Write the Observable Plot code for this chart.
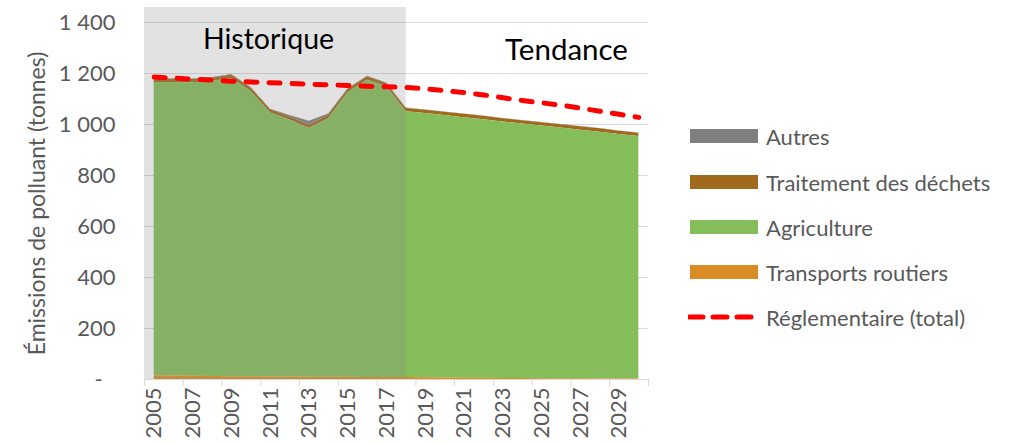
<!DOCTYPE html>
<html><head><meta charset="utf-8">
<script src="https://cdn.jsdelivr.net/npm/d3@7"></script>
<script src="https://cdn.jsdelivr.net/npm/@observablehq/plot@0.6"></script>
<style>
body{margin:0;background:#fff;}
#wrap{position:relative;width:1015px;height:443px;font-family:Lato,sans-serif;}
#legend{position:absolute;left:0;top:0;}
.item{position:absolute;left:688px;height:28px;display:flex;align-items:center;color:#595959;font-size:22px;white-space:nowrap;}
.sw{width:68px;height:14px;margin-left:2px;margin-right:8px;}
</style></head>
<body><div id="wrap"><div id="legend"></div></div>
<script>
const years = [2005,2006,2007,2008,2009,2010,2011,2012,2013,2014,2015,2016,2017,2018,2019,2020,2021,2022,2023,2024,2025,2026,2027,2028,2029,2030];
const transports = [15,14,13,12,11,11,10,10,9,9,9,8,8,8,7,6,5,5,4,4,3,3,3,2,2,2];
const agriculture = [1150,1151,1151,1157,1170,1119,1035,1008,975,1014,1116,1166,1140,1042,1036,1029,1022,1014,1006,998,991,983,975,968,959,951];
const dechets = [13,13,13,13,13,13,13,13,13,13,13,13,13,13,13,13,13,13,13,13,13,13,13,13,13,13];
const autres = [2,2,2,2,2,2,2,4,16,5,2,2,2,2,1,1,1,1,1,1,1,1,1,1,1,1];
const reglementaire = [1186,1182,1178,1174,1170,1167,1164,1161,1158,1156,1153,1150,1148,1145,1140,1133,1125,1116,1105,1094,1085,1076,1064,1052,1040,1028];
const sectors = ["Autres","Traitement des déchets","Agriculture","Transports routiers"];
const sectorColors = ["#7f7f7f","#a0691c","#86bd5b","#d88c22"];
const stackOrder = ["Transports routiers","Agriculture","Traitement des déchets","Autres"];
const histPeriod = [2005, 2018];
const yTicks = [0,200,400,600,800,1000,1200,1400];
const labelYears = [2005,2007,2009,2011,2013,2015,2017,2019,2021,2023,2025,2027,2029];
const legendLabels = ["Autres","Traitement des déchets","Agriculture","Transports routiers","Réglementaire (total)"];

const seriesValues = {"Autres": autres, "Traitement des déchets": dechets, "Agriculture": agriculture, "Transports routiers": transports};
const rows = [];
for (const s of sectors) years.forEach((y,i) => rows.push({year:y, sector:s, value:seriesValues[s][i]}));
const regRows = years.map((y,i) => ({year:y, value:reglementaire[i]}));
const boundaries = [];
for (let i = 0; i <= years.length; i += 2) boundaries.push(years[0] - 0.5 + i);
const fmtY = d => d === 0 ? "-\u2007" : d3.format(",")(d).replace(/,/g, "\u00a0");

const chart = Plot.plot({
  width: 1015, height: 443,
  marginLeft: 144, marginRight: 367, marginTop: 7, marginBottom: 64,
  x: {domain: [years[0]-0.5, years[years.length-1]+0.5]},
  y: {domain: [0, 1459]},
  color: {domain: sectors, range: sectorColors},
  style: {fontFamily: "Lato, sans-serif", fontSize: "22px", color: "#595959", background: "#fff", overflow: "visible"},
  marks: [
    Plot.gridY({ticks: yTicks.filter(d => d > 0), stroke: "#d9d9d9", strokeOpacity: 1}),
    Plot.areaY(rows, {x: "year", y: "value", z: "sector", fill: "sector", order: stackOrder}),
    Plot.rect([histPeriod], {x1: d => d[0] - 0.5, x2: d => d[1], fill: "#8d8d8d", fillOpacity: 0.25}),
    Plot.ruleY([0], {stroke: "#d9d9d9"}),
    Plot.axisX({ticks: boundaries, tickSize: 7, tickFormat: () => "", stroke: "#d9d9d9", label: null}),
    Plot.axisX({ticks: labelYears, tickSize: 0, tickPadding: 8, tickRotate: -90, tickFormat: d => String(d), label: null}),
    Plot.axisY({ticks: yTicks, tickSize: 0, tickPadding: 29, tickFormat: fmtY, label: null}),
    Plot.lineY(regRows, {x: "year", y: "value", stroke: "#ff0000", strokeWidth: 5, strokeDasharray: "11,12", strokeLinecap: "round"}),
    Plot.text(["Historique"], {text: d => d, frameAnchor: "top-left", dx: 124, dy: 21, textAnchor: "middle", fill: "#000", fontSize: 28.5}),
    Plot.text(["Tendance"], {text: d => d, frameAnchor: "top-left", dx: 422, dy: 32, textAnchor: "middle", fill: "#000", fontSize: 29.5}),
    Plot.text(["Émissions de polluant (tonnes)"], {text: d => d, frameAnchor: "left", textAnchor: "middle", rotate: -90, dx: -107, dy: 10, fontSize: 23, fill: "#595959"})
  ]
});
document.getElementById("wrap").prepend(chart);

const legend = document.getElementById("legend");
const centers = [136, 182, 227, 272, 317];
legendLabels.forEach((lab, i) => {
  const it = document.createElement("div");
  it.className = "item";
  it.style.top = (centers[i] - 14) + "px";
  if (i < 4) {
    const sw = document.createElement("div");
    sw.className = "sw";
    sw.style.background = sectorColors[sectors.indexOf(lab)];
    it.appendChild(sw);
  } else {
    const ns = "http://www.w3.org/2000/svg";
    const s = document.createElementNS(ns, "svg");
    s.setAttribute("width", 78); s.setAttribute("height", 14);
    const l = document.createElementNS(ns, "line");
    l.setAttribute("x1", 1); l.setAttribute("x2", 68); l.setAttribute("y1", 7); l.setAttribute("y2", 7);
    l.setAttribute("stroke", "#ff0000"); l.setAttribute("stroke-width", 5);
    l.setAttribute("stroke-dasharray", "14,10"); l.setAttribute("stroke-linecap", "round");
    s.appendChild(l);
    it.appendChild(s);
  }
  const t = document.createElement("span");
  t.textContent = lab;
  it.appendChild(t);
  legend.appendChild(it);
});
</script></body></html>
